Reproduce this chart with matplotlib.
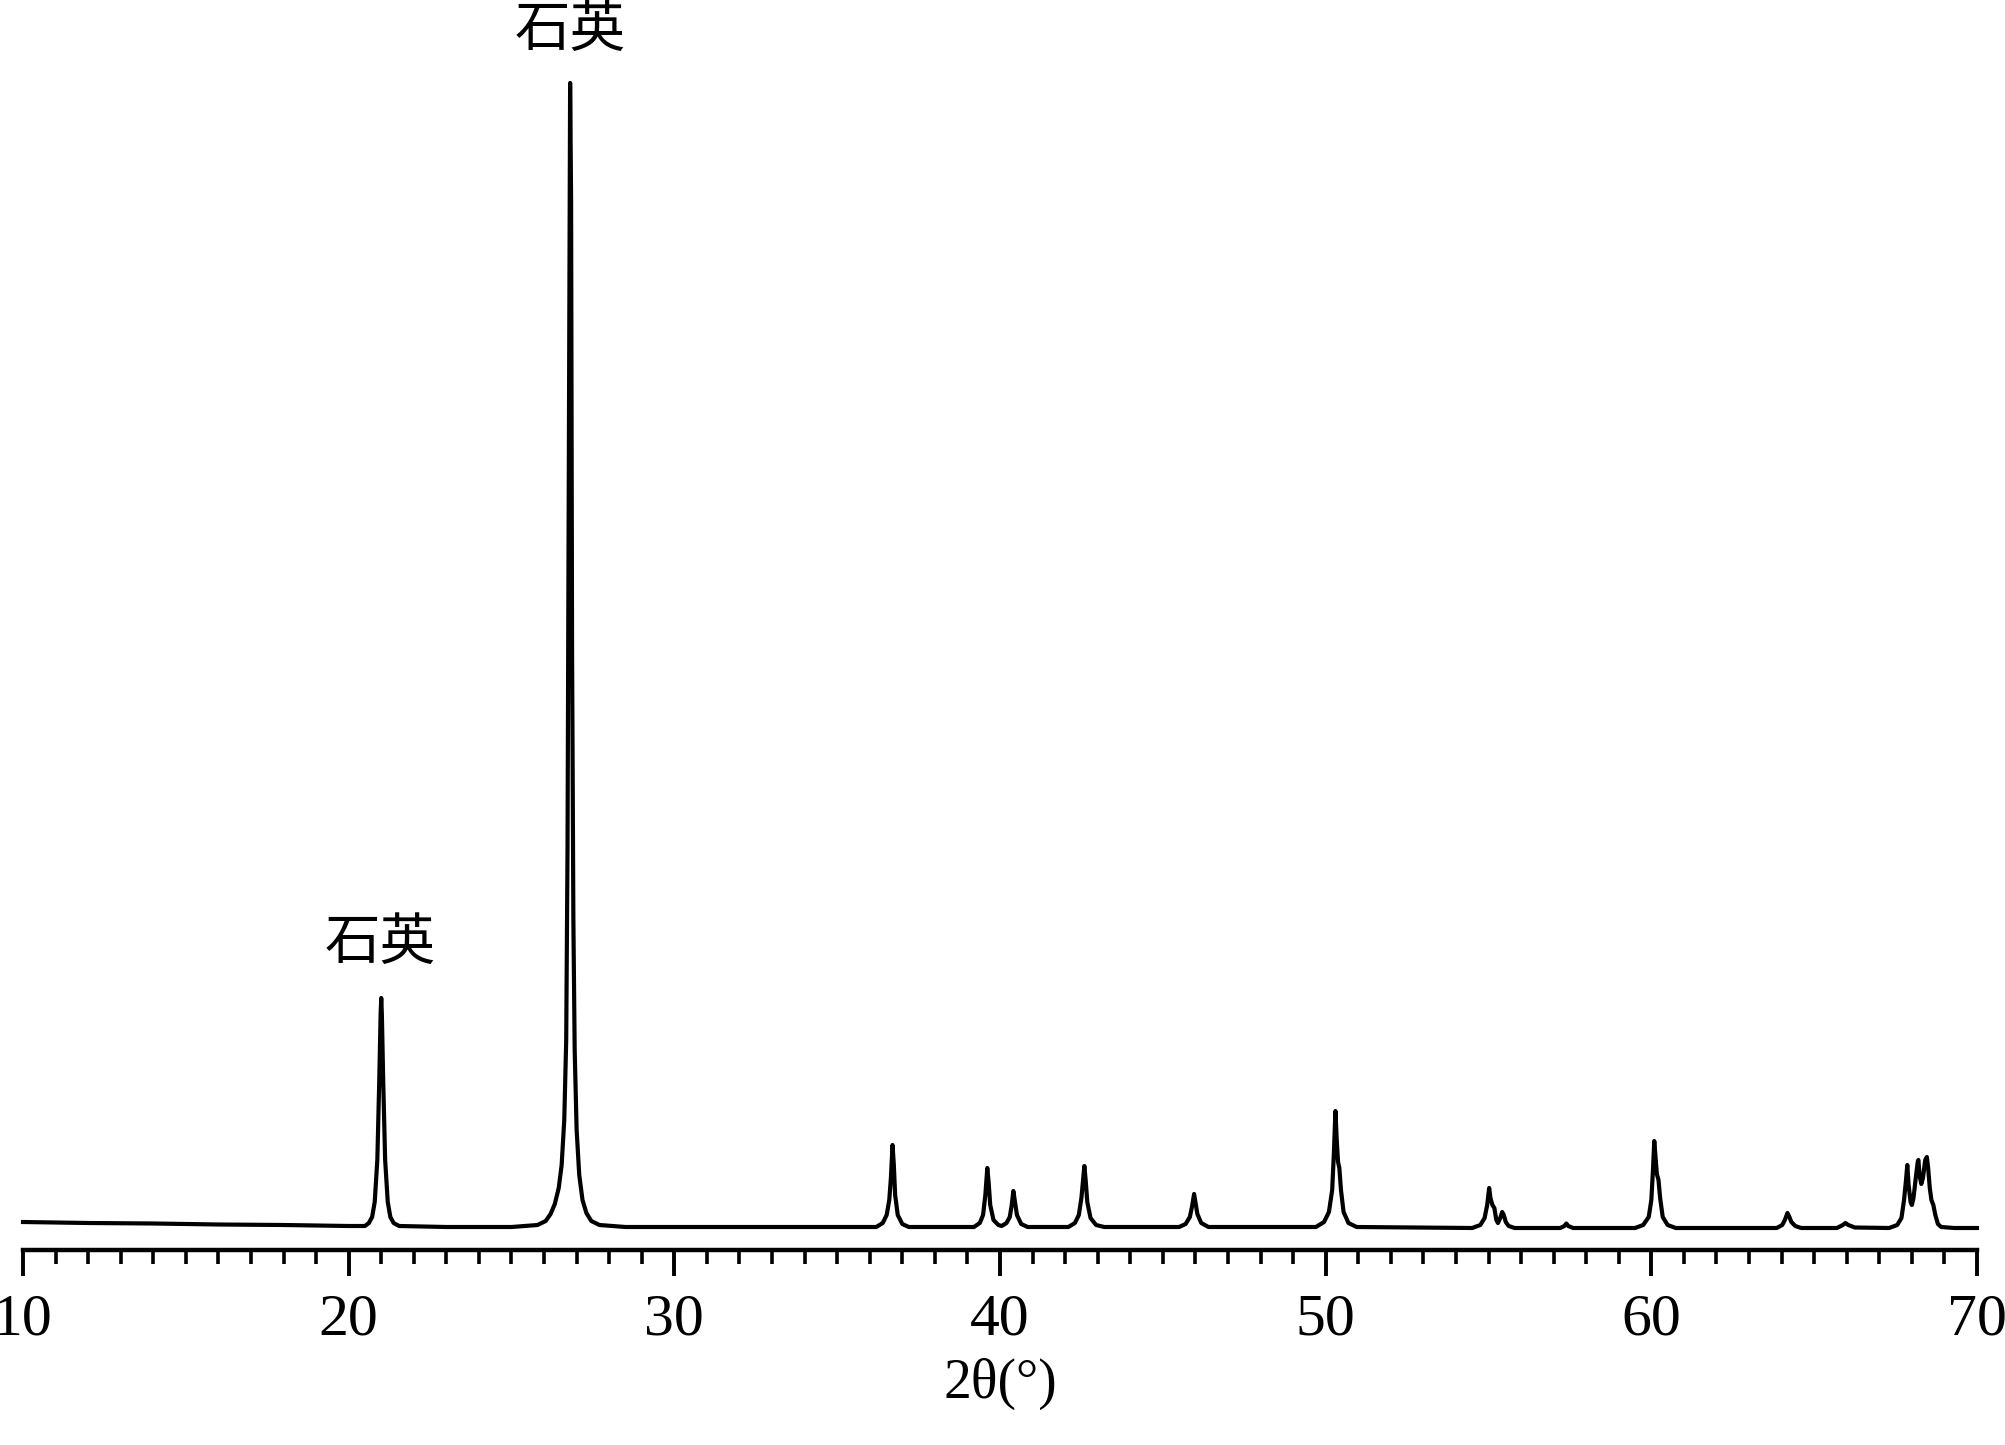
import matplotlib

matplotlib.use("Agg")
import matplotlib.pyplot as plt
from matplotlib.ticker import MultipleLocator

# XRD trace: 2theta (deg) and intensity (a.u.)
two_theta = [
    10.00, 12.00, 14.00, 16.00, 18.00, 20.00, 20.50,
    # quartz 21.0
    20.62, 20.72, 20.80, 20.88, 20.94, 20.98, 21.00, 21.02, 21.06, 21.12, 21.20,
    21.28, 21.38, 21.55,
    23.00, 25.00, 25.80,
    # quartz 26.8
    26.05, 26.20, 26.33, 26.45, 26.54, 26.62, 26.68, 26.72, 26.76, 26.80, 26.83,
    26.86, 26.90, 26.94, 27.00, 27.08, 27.18, 27.30, 27.45, 27.70, 28.50, 32.00,
    36.20,
    # 36.7
    36.40, 36.52, 36.60, 36.65, 36.70, 36.74, 36.78, 36.86, 37.00, 37.20, 39.20,
    # 39.6 / 40.4
    39.38, 39.48, 39.55, 39.61, 39.65, 39.70, 39.80, 39.95, 40.05, 40.20, 40.30,
    40.36, 40.41, 40.45, 40.52, 40.65, 40.85, 42.10,
    # 42.6
    42.30, 42.42, 42.50, 42.59, 42.63, 42.68, 42.78, 42.95, 43.20, 45.50,
    # 46.0
    45.70, 45.83, 45.90, 45.96, 46.00, 46.06, 46.18, 46.40, 49.70,
    # 50.3
    49.95, 50.10, 50.20, 50.25, 50.30, 50.34, 50.38, 50.42, 50.47, 50.55, 50.70,
    50.95, 54.50,
    # 55.0 / 55.4
    54.75, 54.88, 54.96, 55.02, 55.06, 55.12, 55.18, 55.24, 55.29, 55.36, 55.42,
    55.47, 55.53, 55.62, 55.80, 57.20,
    # 57.4
    57.33, 57.39, 57.45, 57.60, 59.50,
    # 60.1
    59.75, 59.92, 60.00, 60.05, 60.09, 60.13, 60.17, 60.22, 60.27, 60.35, 60.50,
    60.75, 63.85,
    # 64.2
    64.02, 64.10, 64.18, 64.24, 64.30, 64.42, 64.60, 65.70,
    # 66.0
    65.88, 65.96, 66.05, 66.25, 67.30,
    # 67.9 - 68.7 cluster
    67.55, 67.68, 67.76, 67.82, 67.86, 67.90, 67.96, 68.00, 68.05, 68.12, 68.18,
    68.20, 68.24, 68.29, 68.34, 68.41, 68.46, 68.50, 68.55, 68.60, 68.66, 68.72,
    68.80, 68.90, 69.30, 70.00,
]

intensity = [
    28, 27, 26.5, 25.5, 25, 24, 24,
    27, 33, 48, 90, 170, 235, 252, 235, 170, 90, 48,
    33, 27, 24,
    23, 23, 25,
    29, 36, 46, 62, 85, 130, 210, 400, 800, 1167, 1050,
    600, 330, 200, 120, 75, 50, 37, 29, 25, 23, 23,
    23,
    27, 35, 50, 72, 105, 85, 55, 35, 26, 23, 23,
    27, 35, 55, 82, 68, 45, 30, 25, 24, 27, 33,
    45, 59, 50, 35, 26, 23, 23,
    27, 35, 52, 84, 70, 48, 32, 25, 23, 23,
    26, 33, 44, 56, 48, 36, 27, 23, 23,
    28, 38, 60, 95, 139, 110, 88, 82, 60, 38, 27,
    23, 22,
    25, 32, 45, 62, 52, 45, 42, 30, 27, 32, 38,
    35, 28, 24, 22, 22,
    24, 26.5, 24, 22, 22,
    25, 33, 50, 80, 109, 92, 76, 70, 52, 33, 25,
    22, 22,
    25, 30, 37, 33, 28, 24, 22, 22,
    25, 27, 25, 22.5, 22,
    25, 32, 50, 70, 85, 65, 48, 45, 52, 72, 88,
    90, 74, 66, 72, 90, 93, 82, 62, 50, 45, 35,
    26, 23, 22, 22,
]

# peak labels: text, 2theta, intensity
label_texts = ["石英", "石英"]
label_x = [20.96, 26.80]
label_y = [307, 1220]

serif = ["Liberation Serif", "DejaVu Serif"]
cjk = ["Noto Sans CJK SC", "DejaVu Sans"]

fig = plt.figure(figsize=(20.06, 14.45), dpi=100)
ax = fig.add_axes([23 / 2006, 195 / 1445, 1954 / 2006, 1250 / 1445])

ax.plot(two_theta, intensity, color="black", linewidth=3.0,
        solid_joinstyle="round", clip_on=False)

for text, x, y in zip(label_texts, label_x, label_y):
    ax.text(x, y, text, ha="center", va="center", fontsize=40, family=cjk)

ax.set_xlim(10, 70)
ax.set_ylim(0, 1250)

for side in ("left", "right", "top"):
    ax.spines[side].set_visible(False)
ax.spines["bottom"].set_linewidth(3.2)
ax.set_yticks([])

ax.xaxis.set_major_locator(MultipleLocator(10))
ax.xaxis.set_minor_locator(MultipleLocator(1))
ax.tick_params(axis="x", which="major", direction="out", length=19, width=2.8, pad=12)
ax.tick_params(axis="x", which="minor", direction="out", length=10, width=2.6)
for label in ax.get_xticklabels():
    label.set_family(serif)
    label.set_fontsize(43)

ax.set_xlabel("2θ(°)", family=serif, fontsize=40, labelpad=8)

fig.savefig("out.png", dpi=100)
